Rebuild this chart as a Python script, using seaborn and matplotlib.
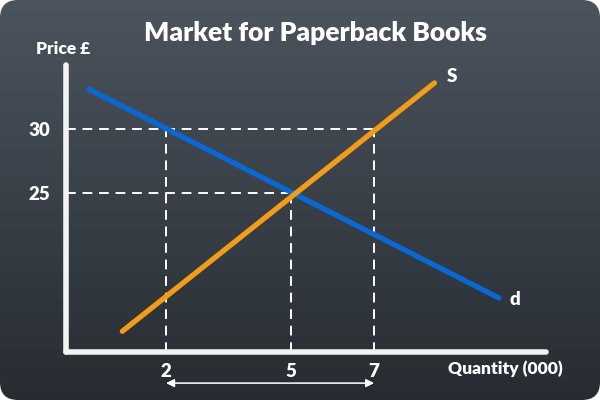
import numpy as np
import pandas as pd
import matplotlib
matplotlib.use("Agg")
import matplotlib.pyplot as plt
from matplotlib.patches import FancyBboxPatch
import seaborn as sns

# chart data
quantity_demand = [0.15, 10.0]
price_demand = [33.1, 16.8]
quantity_supply = [0.95, 8.45]
price_supply = [14.2, 33.6]
x_ticks = [2, 5, 7]
y_ticks = [25, 30]
eq_points = [(2, 30), (5, 25), (7, 30)]   # (quantity, price) guide lines
h_guides = [(30, 7), (25, 5)]             # (price, up to quantity)

sns.set_theme(style="dark")
plt.rcParams['font.family'] = ['Lato', 'DejaVu Sans']

fig = plt.figure(figsize=(6, 4), dpi=100, facecolor="white")

# background gradient panel with rounded corners
bg = fig.add_axes([0, 0, 1, 1])
bg.set_axis_off()
grad = np.linspace(0, 1, 256).reshape(-1, 1)
top = np.array([0x4c, 0x54, 0x5e]) / 255
bot = np.array([0x27, 0x2c, 0x32]) / 255
img = top + (bot - top) * grad[..., None]
im = bg.imshow(img, extent=[0, 1, 0, 1], aspect="auto", transform=bg.transAxes)
clip = FancyBboxPatch((0, 0), 1, 1, boxstyle="round,pad=0,rounding_size=0.03",
                      transform=bg.transAxes, facecolor="none", edgecolor="none",
                      mutation_aspect=1.5)
bg.add_patch(clip)
im.set_clip_path(clip)

# main axes placed so the axis lines sit where the reference has them
ax = fig.add_axes([66 / 600, 48 / 400, 480 / 600, 287 / 400])
ax.set_facecolor("none")
xmin, xmax = -0.404, 11.13
ymin, ymax = 12.58, 35.0
ax.set_xlim(xmin, xmax)
ax.set_ylim(ymin, ymax)
for s in ax.spines.values():
    s.set_visible(False)
ax.grid(False)

# dashed guides
dash = dict(color="white", lw=1.4, dashes=(5, 3.5), zorder=1)
for p, q in h_guides:
    ax.plot([xmin, q], [p, p], **dash)
for q, p in eq_points:
    ax.plot([q, q], [ymin, p], **dash)

df_d = pd.DataFrame({"q": quantity_demand, "p": price_demand})
df_s = pd.DataFrame({"q": quantity_supply, "p": price_supply})
sns.lineplot(data=df_d, x="q", y="p", ax=ax, color="#0a68d4", lw=3.8,
             solid_capstyle="round", zorder=3)
sns.lineplot(data=df_s, x="q", y="p", ax=ax, color="#f39c17", lw=3.8,
             solid_capstyle="round", zorder=3)

# axis lines
ax.plot([xmin, xmin], [ymin, ymax], color="#f2f2f2", lw=4, solid_capstyle="round", clip_on=False, zorder=4)
ax.plot([xmin, xmax], [ymin, ymin], color="#f2f2f2", lw=4, solid_capstyle="round", clip_on=False, zorder=4)

ax.set_xlabel("")
ax.set_ylabel("")
ax.set_xticks(x_ticks)
ax.set_yticks(y_ticks)
ax.set_xticklabels([str(t) for t in x_ticks], fontweight="heavy", fontsize=13.5)
ax.set_yticklabels([str(t) for t in y_ticks], fontweight="heavy", fontsize=13.5)
ax.tick_params(length=0, colors="white", pad=8)
ax.tick_params(axis="y", pad=11)

# double arrow under the ticks
ax.annotate("", xy=(x_ticks[0], 10.15), xytext=(x_ticks[-1], 10.15),
            arrowprops=dict(arrowstyle="<|-|>", color="white", lw=1.1,
                            mutation_scale=12, shrinkA=0, shrinkB=0),
            annotation_clip=False)

txt = dict(color="white", fontweight="heavy")
fig.text(0.525, 0.918, "Market for Paperback Books", ha="center", va="center", fontsize=19, **txt)
fig.text(0.105, 0.878, "Price £", ha="center", va="center", fontsize=12.5, **txt)
fig.text(0.842, 0.077, "Quantity (000)", ha="center", va="center", fontsize=12.5, **txt)
ax.text(quantity_supply[-1] + 0.3, price_supply[-1] + 0.5, "S", ha="left", va="center", fontsize=13.5, **txt)
ax.text(quantity_demand[-1] + 0.25, price_demand[-1] - 0.15, "d", ha="left", va="center", fontsize=13.5, **txt)

fig.savefig("out.png", dpi=100, facecolor="white")
